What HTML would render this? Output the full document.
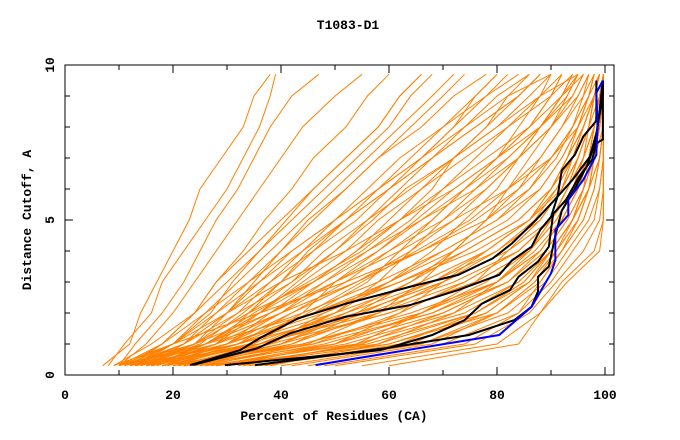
<!DOCTYPE html>
<html><head><meta charset="utf-8"><style>
body{margin:0;background:#fff}
svg{display:block}
text{font-family:"Liberation Mono","Courier New","DejaVu Sans Mono",monospace;font-weight:bold;font-size:13px;fill:#000}
</style></head><body>
<svg id="chart" width="680" height="440">
<text x="348" y="29" text-anchor="middle" font-family="Liberation Mono, monospace">T1083-D1</text>
<text x="334" y="420" text-anchor="middle" font-family="Liberation Mono, monospace">Percent of Residues (CA)</text>
<text transform="translate(31,220) rotate(-90)" text-anchor="middle" font-family="Liberation Mono, monospace">Distance Cutoff, A</text>
<g id="lines"></g>
<g id="axes"></g>
</svg>
<script>
const yLevels=[0.3,1,2,3,4,5,6,7,8,9,9.7];
const orangeSeries=[
[7,12,14,17,20,23,25,29,33,35,38],
[8,11,16,18,22,26,30,33,36,38,39],
[10,13,18,22,25,28,32,35,38,42,47],
[10,15,20,24,28,32,36,40,44,50,55],
[11,18,24,28,33,37,42,46,52,56,60],
[12,20,27,31,36,41,46,52,58,62,66],
[13,22,30,35,40,45,52,58,66,72,78],
[14,25,33,40,45,52,58,66,74,82,90],
[15,28,36,43,50,57,63,72,80,88,95],
[16,26,35,45,55,62,68,72,78,84,88],
[17,30,40,48,58,65,72,80,86,90,92],
[18,32,42,52,60,70,78,84,90,94,96],
[19,35,45,55,65,75,82,88,92,96,98],
[20,38,48,60,70,80,86,90,94,97,99],
[22,40,52,64,74,84,90,93,96,98,99],
[24,42,55,68,78,86,92,95,97,99,99.7],
[12,28,44,58,70,80,88,92,95,97,98],
[14,30,48,62,76,86,91,94,96,98,99],
[16,34,52,68,80,88,92,95,97,98,99],
[18,36,56,72,84,90,93,96,98,99,99.7],
[20,40,60,76,86,91,94,97,98,99,99.7],
[22,44,64,80,88,92,95,97,99,99.7,99.7],
[25,48,68,82,89,93,96,98,99,99.7,99.7],
[28,52,72,84,90,94,97,98,99,99.7,99.7],
[30,56,76,86,91,95,97,99,99.7,99.7,99.7],
[35,60,80,88,92,96,98,99,99.7,99.7,99.7],
[40,66,82,89,93,97,99,99.7,99.7,99.7,99.7],
[45,70,84,90,94,98,99,99.7,99.7,99.7,99.7],
[50,76,86,91,96,99,99.7,99.7,99.7,99.7,99.7],
[55,80,88,92,98,99.7,99.7,99.7,99.7,99.7,99.7],
[60,84,88,93,99,99.7,99.7,99.7,99.7,99.7,99.7],
[10,24,38,50,62,72,82,90,95,98,99],
[11,26,40,54,66,76,84,90,94,97,98],
[13,24,34,46,56,66,76,84,90,95,97],
[15,22,30,40,52,62,72,80,88,94,96],
[18,30,38,46,54,62,70,78,86,92,95],
[20,34,44,50,58,66,74,82,88,93,95],
[23,38,50,58,64,70,76,82,88,92,94],
[26,45,58,66,72,78,84,88,92,95,97],
[30,50,62,70,78,86,90,93,95,97,98],
[33,54,66,76,82,88,92,94,96,98,99],
[38,58,72,80,86,90,93,95,97,98,99],
[12,22,32,42,48,56,64,72,80,86,90],
[14,26,36,44,52,58,66,74,82,90,92],
[17,28,34,40,46,52,60,68,76,84,88],
[11,20,36,52,66,78,86,91,94,96,97],
[13,30,46,60,72,82,88,92,95,97,98],
[15,32,50,66,78,86,90,93,96,98,99],
[21,42,58,70,80,87,91,94,96,98,99],
[27,50,66,78,86,90,93,95,97,98,99],
[32,55,70,82,88,92,95,97,98,99,99.7],
[37,62,76,85,90,94,96,98,99,99.7,99.7],
[42,68,80,87,91,95,97,98,99.7,99.7,99.7],
[48,74,84,88,92,96,98,99,99.7,99.7,99.7],
[9,20,28,36,44,52,60,68,76,84,88],
[16,36,54,70,82,90,94,96,98,99,99.7],
[24,46,62,74,84,90,94,96,98,99,99.7],
[10,20,30,38,44,50,56,62,70,78,84],
[12,24,34,42,50,56,62,68,74,80,86],
[14,26,38,48,56,64,70,76,82,88,92],
[16,28,40,50,60,68,74,80,86,90,94],
[18,30,42,54,64,72,78,84,88,92,96],
[11,22,28,34,40,46,52,58,64,70,74],
[13,20,26,32,38,44,50,56,62,68,72],
[15,24,32,38,46,54,60,66,72,78,82],
[17,26,36,46,54,60,66,72,78,82,86],
[19,32,46,56,62,68,74,80,84,88,90],
[21,36,50,60,68,74,80,84,88,92,94],
[23,40,54,64,72,78,82,86,90,93,95],
[9,16,24,30,36,42,48,54,60,64,68],
[10,18,26,34,42,50,58,64,70,76,80],
[12,18,24,28,34,40,46,52,58,62,66],
[14,24,30,36,42,50,58,66,72,76,80],
[10,26,46,62,74,84,90,94,96,98,99],
[12,32,54,70,82,88,92,95,97,98,99],
[15,38,60,76,86,91,94,96,98,99,99.7],
[18,44,66,80,88,92,95,97,98,99,99.7],
[22,50,70,82,89,93,96,97,98,99,99.7],
[26,54,74,84,90,94,96,98,99,99.7,99.7],
[30,60,78,86,90,94,97,98,99,99.7,99.7],
[36,66,80,87,92,95,97,99,99.7,99.7,99.7],
[13,36,58,74,84,90,93,96,97,98,99],
[20,46,68,80,87,92,95,97,98,99,99.7],
[28,58,76,85,90,94,96,98,99,99.7,99.7],
[34,64,78,86,91,94,97,98,99,99.7,99.7]
];
const black1X=[23.2,32.4,36,43.2,52,64,72.8,79.2,82.8,87.2,91.2,92,94.4,96,98.4,98.4];
const black1Y=[0.32,0.8,1.18,1.83,2.3,2.85,3.23,3.76,4.25,5,5.75,6.6,7.1,7.7,8.2,9.5];
const black2X=[23.6,35.6,41.6,52,64,72.8,80.4,82.8,86.4,88,90,91.2,94,97.2,98.4,99.6,99.6];
const black2Y=[0.32,0.86,1.34,1.88,2.26,2.74,3.23,3.7,4.14,4.68,5.1,5.75,6.3,7.04,7.8,9,9.5];
const black3X=[29.6,58.4,68,74,77.2,82.4,84,87.6,89.6,90.4,92.8,95.2,97.6,98.4,99.6,99.6];
const black3Y=[0.32,0.8,1.29,1.77,2.3,2.74,3.17,3.66,4.14,5.2,5.65,6.4,6.94,7.47,7.6,9.5];
const black4X=[35.2,59.2,74.8,83.2,86.4,87.6,87.6,89.6,90.8,92,94.4,96.8,98.4,99.6];
const black4Y=[0.32,0.86,1.29,1.77,2.2,2.7,3.17,3.5,4.5,5.3,6,6.8,7.6,9.5];
const blueX=[46.4,80.4,86.4,90,90.8,90.8,93.2,93.2,96,98.4,98.6,98.4,99.6];
const blueY=[0.32,1.29,2.2,3.28,3.7,4.68,5.16,5.65,6.3,7.1,8.1,9.1,9.5];
const xTicks=[0,20,40,60,80,100];
const yTicks=[0,5,10];

const L=65,R=614,T=65,B=375;
const sx=v=>L+v*5.4;
const sy=v=>B-v*31;
const NS="http://www.w3.org/2000/svg";
const lines=document.getElementById('lines');
const axes=document.getElementById('axes');
function mk(tag,attrs,parent){const e=document.createElementNS(NS,tag);for(const k in attrs)e.setAttribute(k,attrs[k]);parent.appendChild(e);return e;}
orangeSeries.forEach((s,i)=>{
  const p=mk('polyline',{points:s.map((x,j)=>sx(x)+','+sy(yLevels[j])).join(' '),fill:'none',stroke:'#ff8000','stroke-width':1},lines);
  
  
});
function drawLine(xs,ys,color,name){
  const p=mk('polyline',{points:xs.map((x,j)=>sx(x)+','+sy(ys[j])).join(' '),fill:'none',stroke:color,'stroke-width':2},lines);
  
  
}
drawLine(black1X,black1Y,'#000','black-line-1');
drawLine(black2X,black2Y,'#000','black-line-2');
drawLine(black3X,black3Y,'#000','black-line-3');
drawLine(black4X,black4Y,'#000','black-line-4');
drawLine(blueX,blueY,'#0000ff','blue-line');
const fr=mk('rect',{x:L,y:T,width:R-L,height:B-T,fill:'none',stroke:'#000','stroke-width':1},axes);


for(let v=0;v<=100;v+=10){
  const len=(v%20===0)?8:5;
  mk('line',{x1:sx(v),x2:sx(v),y1:B,y2:B-len,stroke:'#000'},axes);
  mk('line',{x1:sx(v),x2:sx(v),y1:T,y2:T+len,stroke:'#000'},axes);
}
for(let v=0;v<=10;v+=1){
  const len=(v%5===0)?8:5;
  mk('line',{x1:L,x2:L+len,y1:sy(v),y2:sy(v),stroke:'#000'},axes);
  mk('line',{x1:R,x2:R-len,y1:sy(v),y2:sy(v),stroke:'#000'},axes);
}
xTicks.forEach(v=>{
  const t=mk('text',{x:sx(v),y:B+24,'text-anchor':'middle'},axes);
  t.textContent=v;
  
  
});
yTicks.forEach(v=>{
  const t=mk('text',{transform:'translate(54,'+sy(v)+') rotate(-90)','text-anchor':'middle'},axes);
  t.textContent=v;
  
  
});
</script>
</body></html>
